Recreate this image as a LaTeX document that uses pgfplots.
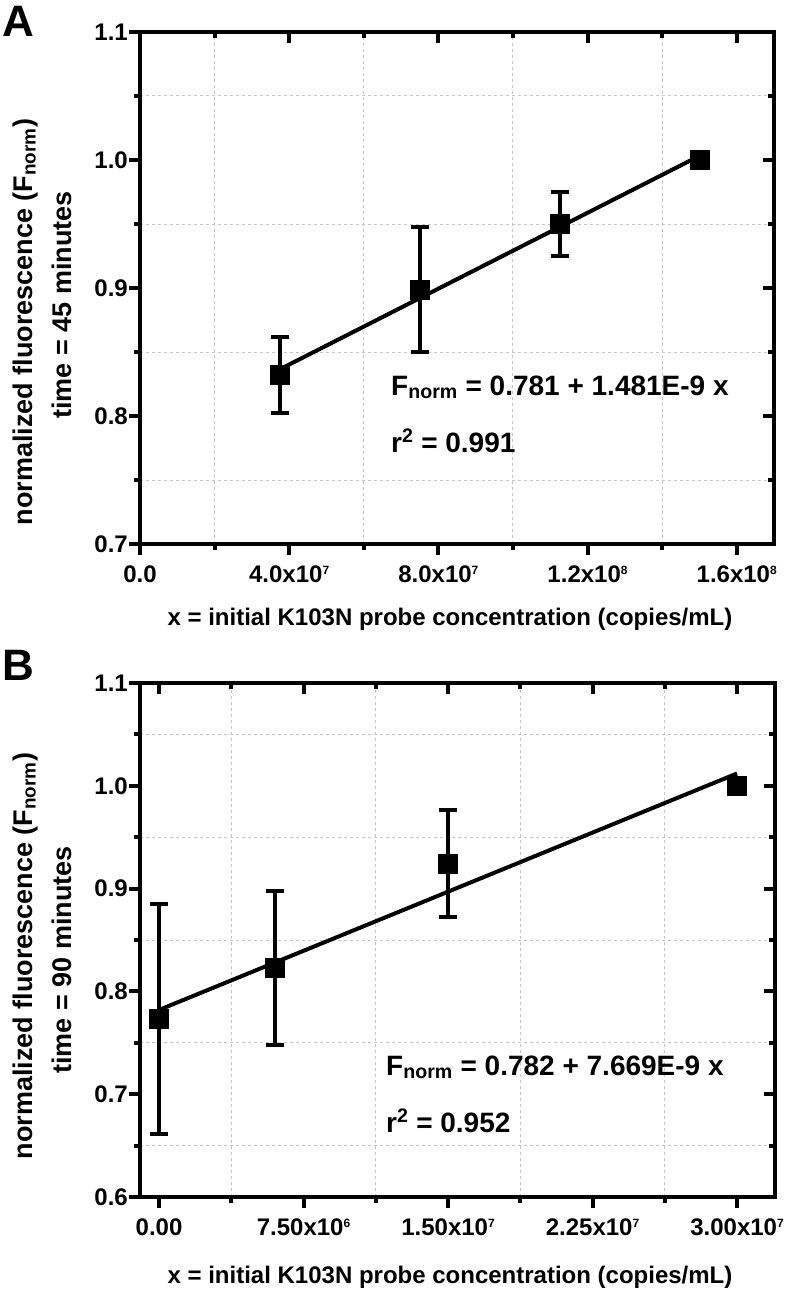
\documentclass[border=0pt]{standalone}
\usepackage{fontspec}
\setmainfont{Liberation Sans}
\usepackage{pgfplots}
\pgfplotsset{compat=1.18}
\usepackage{pgfplotstable}

\pgfplotstableread{
x y e
3.75e7 0.832 0.030
7.5e7 0.899 0.049
1.125e8 0.950 0.025
1.5e8 1.000 0
}\dataA
\pgfplotstableread{
x y e
0 0.773 0.112
6.0e6 0.823 0.075
1.5e7 0.924 0.052
3.0e7 1.000 0
}\dataB

\newcommand{\ex}[1]{\raisebox{8pt}{\fontsize{12}{12}\selectfont #1}}
\newcommand{\tkf}{\fontsize{24}{28}\selectfont\bfseries}

\pgfplotsset{
 base/.style={scale only axis, axis line style={line width=4pt}, tick style={line width=4pt, black},
   major tick length=11pt, minor tick length=6pt, scaled x ticks=false, scaled y ticks=false},
 lower/.style={base, xtick pos=left, ytick pos=left, tick align=outside,
   xminorgrids=true, yminorgrids=true, minor grid style={dashed, gray!45, line width=1pt},
   xticklabel style={font=\tkf, anchor=base, yshift=-27pt},
   yticklabel style={font=\tkf, anchor=east, inner sep=1pt}},
 upper/.style={base, xtick pos=right, ytick pos=right, tick align=inside, xticklabels={}, yticklabels={}},
 panelA/.style={at={(140pt,-544pt)}, anchor=south west, width=634pt, height=512pt,
   xmin=0, xmax=1.70e8, ymin=0.7, ymax=1.1,
   xtick={0,4e7,8e7,1.2e8,1.6e8}, minor xtick={2e7,6e7,1e8,1.4e8},
   ytick={0.7,0.8,0.9,1.0,1.1}, minor ytick={0.75,0.85,0.95,1.05}},
 panelB/.style={at={(140pt,-1197pt)}, anchor=south west, width=635pt, height=514pt,
   xmin=-0.99e6, xmax=3.197e7, ymin=0.6, ymax=1.1,
   xtick={0,7.5e6,1.5e7,2.25e7,3e7}, minor xtick={3.75e6,1.125e7,1.875e7,2.625e7},
   ytick={0.6,0.7,0.8,0.9,1.0,1.1}, minor ytick={0.65,0.75,0.85,0.95,1.05}},
 pts/.style={black, only marks, mark=square*, mark size=9.5pt, mark options={fill=black, draw=black, line width=0.5pt},
   error bars/.cd, y dir=both, y explicit, error bar style={line width=4pt, black},
   error mark options={line width=4pt, mark size=9pt, black, rotate=90}},
}

\begin{document}
\begin{tikzpicture}
\useasboundingbox (0pt,0pt) rectangle (788pt,-1292pt);

% Panel A
\begin{axis}[lower, panelA,
  xticklabels={0.0, 4.0x10\ex{7}, 8.0x10\ex{7}, 1.2x10\ex{8}, 1.6x10\ex{8}},
  yticklabels={0.7,0.8,0.9,1.0,1.1}]
\addplot[black, line width=4pt] coordinates {(3.75e7,0.8365) (1.5e8,1.0032)};
\addplot+[pts] table[x=x, y=y, y error=e] {\dataA};
\end{axis}
\begin{axis}[upper, panelA]
\end{axis}

% Panel B
\begin{axis}[lower, panelB,
  xticklabels={0.00, 7.50x10\ex{6}, 1.50x10\ex{7}, 2.25x10\ex{7}, 3.00x10\ex{7}},
  yticklabels={0.6,0.7,0.8,0.9,1.0,1.1}]
\addplot[black, line width=4pt] coordinates {(0,0.782) (3.0e7,1.012)};
\addplot+[pts] table[x=x, y=y, y error=e] {\dataB};
\end{axis}
\begin{axis}[upper, panelB]
\end{axis}

% Panel letters
\node[anchor=base west, inner sep=0pt, font=\fontsize{44}{44}\selectfont\bfseries] at (2pt,-37pt) {A};
\node[anchor=base west, inner sep=0pt, font=\fontsize{44}{44}\selectfont\bfseries] at (2pt,-680pt) {B};

% y labels
\node[rotate=90, anchor=base, inner sep=0pt, font=\fontsize{27}{27}\selectfont\bfseries] at (32pt,-322pt) {normalized fluorescence (F\textsubscript{norm})};
\node[rotate=90, anchor=base, inner sep=0pt, font=\fontsize{27}{27}\selectfont\bfseries] at (71pt,-305pt) {time = 45 minutes};
\node[rotate=90, anchor=base, inner sep=0pt, font=\fontsize{27}{27}\selectfont\bfseries] at (32pt,-956pt) {normalized fluorescence (F\textsubscript{norm})};
\node[rotate=90, anchor=base, inner sep=0pt, font=\fontsize{27}{27}\selectfont\bfseries] at (71pt,-960pt) {time = 90 minutes};

% x labels
\node[anchor=base, inner sep=0pt, font=\fontsize{24}{24}\selectfont\bfseries] at (450pt,-625pt) {x = initial K103N probe concentration (copies/mL)};
\node[anchor=base, inner sep=0pt, font=\fontsize{24}{24}\selectfont\bfseries] at (450pt,-1283pt) {x = initial K103N probe concentration (copies/mL)};

% fit annotations
\node[anchor=base west, inner sep=0pt, font=\fontsize{28}{28}\selectfont\bfseries] at (391pt,-395pt) {F\textsubscript{norm} = 0.781 + 1.481E-9 x};
\node[anchor=base west, inner sep=0pt, font=\fontsize{28}{28}\selectfont\bfseries] at (391pt,-452pt) {r\textsuperscript{2} = 0.991};
\node[anchor=base west, inner sep=0pt, font=\fontsize{28}{28}\selectfont\bfseries] at (386pt,-1075pt) {F\textsubscript{norm} = 0.782 + 7.669E-9 x};
\node[anchor=base west, inner sep=0pt, font=\fontsize{28}{28}\selectfont\bfseries] at (386pt,-1132pt) {r\textsuperscript{2} = 0.952};
\end{tikzpicture}
\end{document}
